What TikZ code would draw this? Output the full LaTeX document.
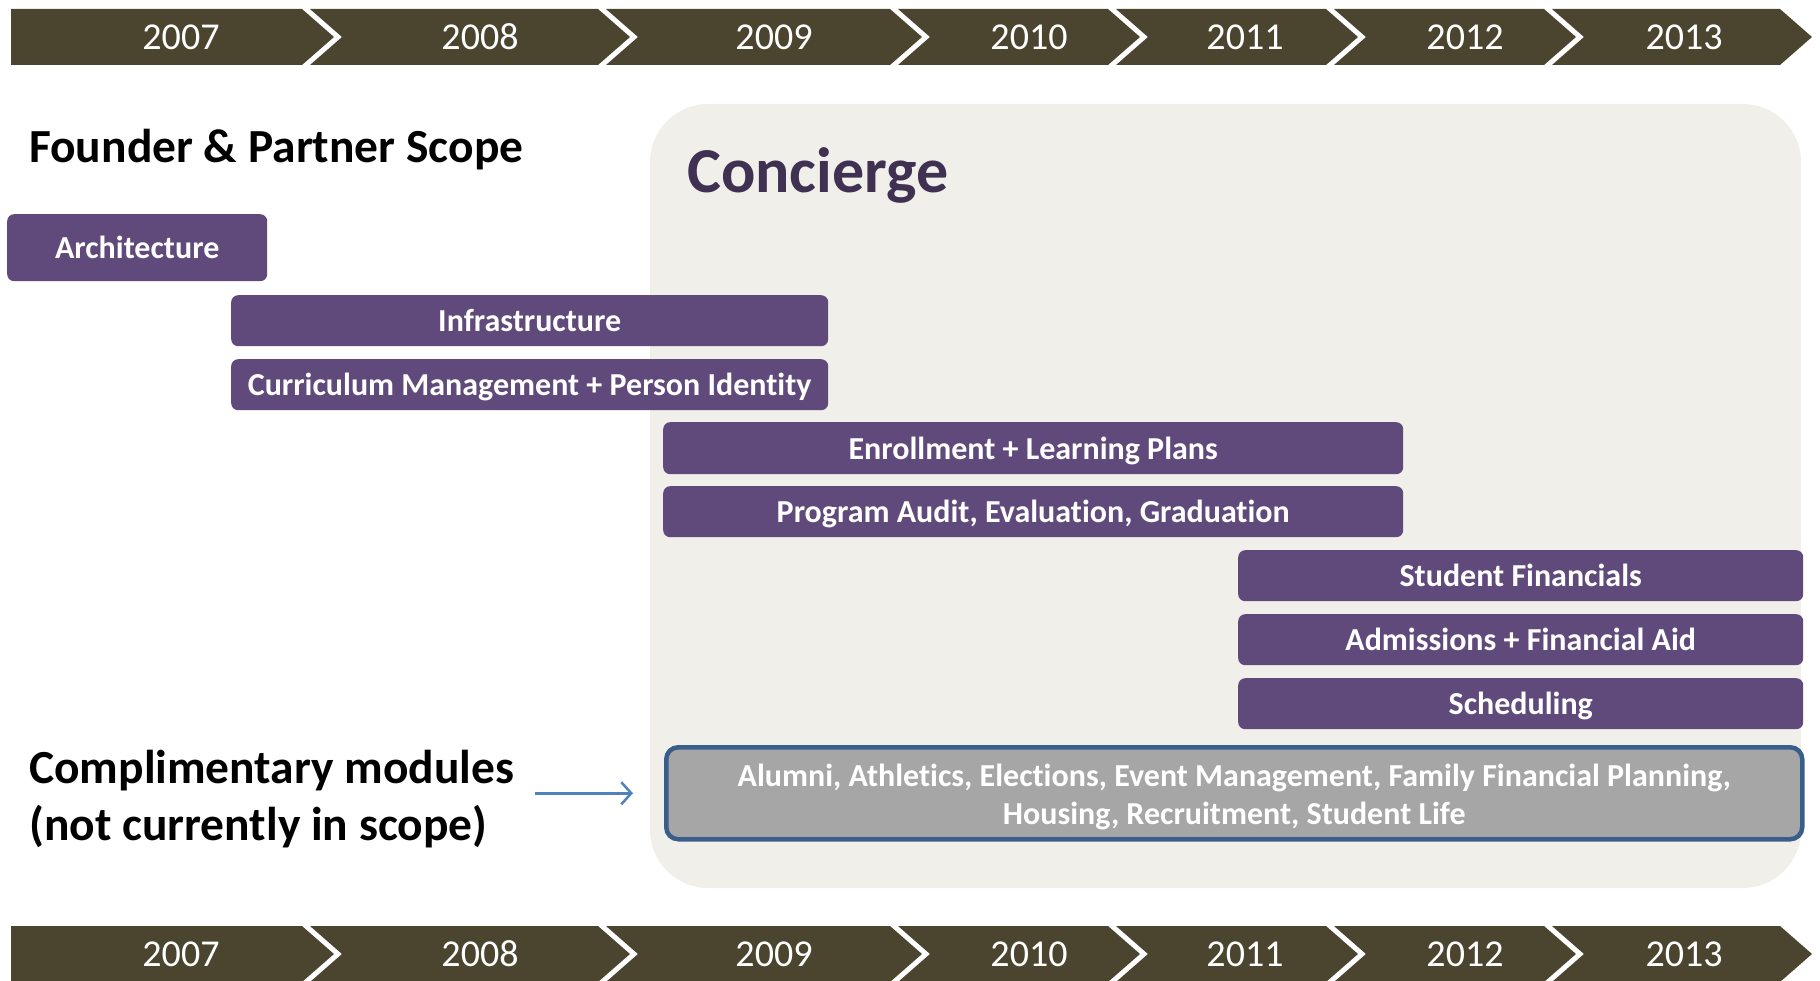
\documentclass[tikz,border=0pt]{standalone}
\usepackage{fontspec}
\setmainfont{Carlito}[Ligatures=NoCommon]
\usetikzlibrary{positioning, arrows.meta}

\definecolor{bandolive}{HTML}{4B452F}
\definecolor{modpurple}{HTML}{604A7B}
\definecolor{panelbg}{HTML}{F0EFE9}
\definecolor{titlepurple}{HTML}{403152}
\definecolor{frameblue}{HTML}{3A5E8C}
\definecolor{arrowblue}{HTML}{4F81BD}
\definecolor{othersgray}{HTML}{A6A6A6}

\tikzset{
  yearband/.style={fill=bandolive},
  yearlabel/.style={text=white, font=\fontsize{38}{40}\selectfont, inner sep=0pt},
  heading/.style={font=\bfseries\fontsize{47.5}{57}\selectfont, inner sep=0pt, align=left},
  module/.style={fill=modpurple, rounded corners=7pt, text=white, anchor=north west,
    font=\bfseries\fontsize{32}{34}\selectfont, inner sep=0pt,
    text height=23pt, text depth=1pt},
  othersbox/.style={fill=othersgray, draw=frameblue, line width=4.5pt, rounded corners=12pt,
    text=white, anchor=north west, align=center,
    font=\bfseries\fontsize{32}{38}\selectfont, inner sep=0pt},
}

\begin{document}
\begin{tikzpicture}[x=1pt, y=-1pt]
  \useasboundingbox (0,0) rectangle (1820,981);

  % year banners, top and bottom
  \foreach \yt/\pos in {9/top, 926/bot}{
    \foreach \l/\r/\tx/\yr [count=\i] in {11/302/181/2007, 310/598/480/2008,
        606/890/774/2009, 898/1108/1029/2010, 1116/1326/1245/2011,
        1334/1544/1465/2012, 1552/1780/1684/2013}{
      \ifnum\i=1 \def\nd{0}\else\def\nd{32}\fi
      \fill[yearband] (\l,\yt) -- (\r,\yt) -- (\r+32,\yt+28) -- (\r,\yt+56)
        -- (\l,\yt+56) -- (\l+\nd,\yt+28) -- cycle;
      \node[yearlabel] (\pos\yr) at (\tx,\yt+28) {\yr};
    }
  }

  % concierge panel
  \fill[panelbg, rounded corners=58pt] (650,104) rectangle (1801,888);
  \node[anchor=west, inner sep=0pt, text=titlepurple,
    font=\bfseries\fontsize{64}{68}\selectfont] (concierge) at (687,175) {Concierge};

  \node[heading, anchor=west] (founder) at (29,150) {Founder \& Partner Scope};

  \node[module, minimum width=260pt, minimum height=67pt] (arch) at (7,214) {Architecture};
  \node[module, minimum width=597pt, minimum height=51pt] (infra) at (231,295) {Infrastructure};
  \node[module, minimum width=597pt, minimum height=51pt] (curric) at (231,359) {Curriculum Management + Person Identity};
  \node[module, minimum width=740pt, minimum height=52pt] (enroll) at (663,422) {Enrollment + Learning Plans};
  \node[module, minimum width=740pt, minimum height=51pt] (audit) at (663,486) {Program Audit, Evaluation, Graduation};
  \node[module, minimum width=565pt, minimum height=51pt] (finan) at (1238,550) {Student Financials};
  \node[module, minimum width=565pt, minimum height=51pt] (admis) at (1238,614) {Admissions + Financial Aid};
  \node[module, minimum width=565pt, minimum height=51pt] (sched) at (1238,678) {Scheduling};

  \node[othersbox, minimum width=1136pt, minimum height=92pt] (others) at (664,745)
    {\rule{0pt}{30pt}Alumni, Athletics, Elections, Event Management, Family Financial Planning,\\
     Housing, Recruitment, Student Life};

  \node[heading, anchor=west] (comp) at (29,799) {Complimentary modules\\(not currently in scope)};

  \draw[arrowblue, line width=2.5pt, shorten <=20pt, shorten >=31pt,
    -{Straight Barb[length=10pt, width=22pt, line width=2.5pt]}]
    (comp.east |- others.west) -- (others.west);
\end{tikzpicture}
\end{document}
